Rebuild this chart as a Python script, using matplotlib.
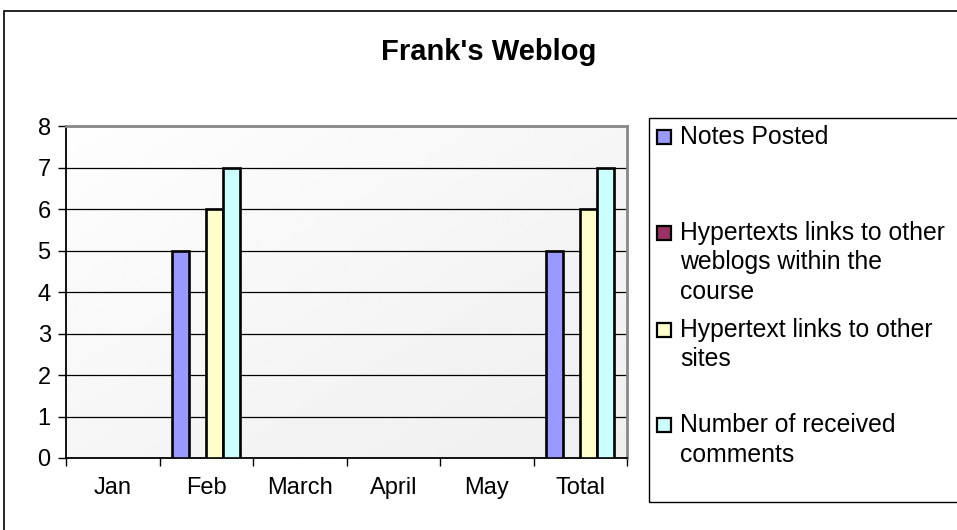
import numpy as np
import matplotlib.pyplot as plt
from matplotlib.patches import Rectangle

plt.rcParams['font.family'] = ['Liberation Sans', 'DejaVu Sans']

categories = ["Jan", "Feb", "March", "April", "May", "Total"]
series_names = [
    "Notes Posted",
    "Hypertexts links to other\nweblogs within the\ncourse",
    "Hypertext links to other\nsites",
    "Number of received\ncomments",
]
notes_posted = [0, 5, 0, 0, 0, 5]
links_weblogs = [0, 0, 0, 0, 0, 0]
links_sites = [0, 6, 0, 0, 0, 6]
received_comments = [0, 7, 0, 0, 0, 7]
series_values = [notes_posted, links_weblogs, links_sites, received_comments]
colors = ["#9999FF", "#993366", "#FFFFCC", "#CCFFFF"]

W, H = 957, 530
fig = plt.figure(figsize=(W / 100, H / 100), dpi=100)

# outer chart frame (runs off the right and bottom edges)
fig.patches.append(Rectangle((4 / W, -0.1), 1.2, 1 - 11 / H + 0.1,
                             transform=fig.transFigure, fill=False,
                             edgecolor='black', linewidth=1.2))

fig.text(489 / W, 1 - 52 / H, "Frank's Weblog", ha='center', va='center',
         fontsize=21, fontweight='bold')

x0, x1, ytop, ybot = 66, 627, 126, 458
ax = fig.add_axes([x0 / W, 1 - ybot / H, (x1 - x0) / W, (ybot - ytop) / H])

# faint diagonal gradient in the plot area
gx, gy = np.meshgrid(np.linspace(0, 1, 200), np.linspace(0, 1, 200))
grad = 0.995 - 0.06 * (gx * 0.5 + gy * 0.5)
ax.imshow(grad, cmap='gray', vmin=0, vmax=1, extent=[-0.5, 5.5, 0, 8],
          aspect='auto', zorder=0, origin='upper')

n = len(series_values)
bw = 0.182
x = np.arange(len(categories))
for i, (vals, c) in enumerate(zip(series_values, colors)):
    offs = (i - (n - 1) / 2) * bw
    lw = [1.9 if v > 0 else 0 for v in vals]
    ax.bar(x + offs, vals, width=bw, color=c, edgecolor='black',
           linewidth=lw, zorder=3)

ax.set_xlim(-0.5, 5.5)
ax.set_ylim(0, 8)
ax.set_yticks(range(9))
ax.yaxis.grid(True, color='black', linewidth=0.9)
for gl in ax.get_ygridlines():
    gl.set_zorder(1)

ax.set_xticks(np.arange(-0.5, 6, 1))
ax.set_xticklabels([])
ax.set_xticks(x, minor=True)
ax.set_xticklabels(categories, minor=True)
ax.tick_params(axis='x', which='major', length=6, width=1, direction='out')
ax.tick_params(axis='x', which='minor', length=0, pad=14, labelsize=17)
ax.tick_params(axis='y', length=6, width=1, direction='out', labelsize=17, pad=5)

ax.spines['left'].set_linewidth(1.3)
ax.spines['bottom'].set_linewidth(1.3)
ax.spines['top'].set_color('#888888')
ax.spines['right'].set_color('#888888')
ax.spines['top'].set_linewidth(2)
ax.spines['right'].set_linewidth(2)

# legend box
lx, ltop, lbot = 649, 118, 502
fig.patches.append(Rectangle((lx / W, 1 - lbot / H), 1.0, (lbot - ltop) / H,
                             transform=fig.transFigure, fill=False,
                             edgecolor='black', linewidth=1.0))
entry_y = [137, 233, 330, 425]
for name, c, yy in zip(series_names, colors, entry_y):
    fig.patches.append(Rectangle((657 / W, 1 - (yy + 7) / H), 14 / W, 14 / H,
                                 transform=fig.transFigure, facecolor=c,
                                 edgecolor='black', linewidth=1.6))
    for k, line in enumerate(name.split("\n")):
        fig.text(680 / W, 1 - (yy + k * 29.5) / H, line, ha='left',
                 va='center', fontsize=17.8)

fig.savefig("out.png", dpi=100)
